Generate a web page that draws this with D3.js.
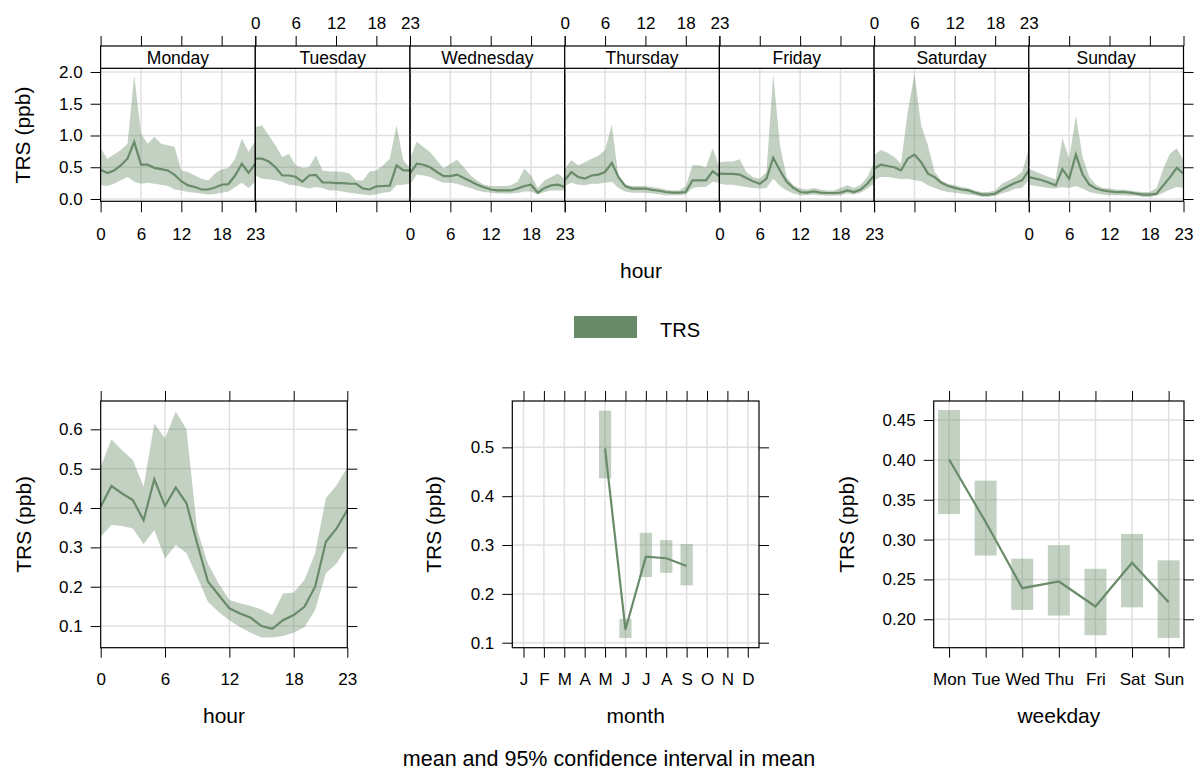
<!DOCTYPE html>
<html>
<head>
<meta charset="utf-8">
<script src="https://cdn.jsdelivr.net/npm/d3@7"></script>
<style>
  body { margin: 0; background: #fff; }
  text { font-family: "Liberation Sans", Arial, sans-serif; fill: #000; }
</style>
</head>
<body>
<script>
// ---- data ----
let days = ["Monday","Tuesday","Wednesday","Thursday","Friday","Saturday","Sunday"];
let hourTicks = [0,6,12,18,23];

// day x hour: mean, lower and upper 95% CI, one row per day
let dayHourMean = [
  [0.46,0.41,0.45,0.53,0.635,0.90,0.54,0.54,0.49,0.47,0.45,0.38,0.28,0.215,0.19,0.15,0.15,0.18,0.225,0.235,0.37,0.555,0.41,0.555],
  [0.635,0.635,0.59,0.50,0.37,0.37,0.35,0.27,0.37,0.38,0.26,0.26,0.25,0.25,0.24,0.24,0.165,0.15,0.20,0.205,0.21,0.53,0.45,0.45],
  [0.40,0.555,0.54,0.50,0.425,0.36,0.36,0.385,0.33,0.28,0.225,0.185,0.15,0.135,0.135,0.135,0.165,0.205,0.225,0.10,0.175,0.215,0.225,0.19],
  [0.295,0.425,0.345,0.32,0.37,0.385,0.425,0.57,0.345,0.205,0.165,0.165,0.165,0.145,0.13,0.11,0.10,0.10,0.11,0.295,0.295,0.295,0.435,0.36],
  [0.40,0.395,0.395,0.385,0.33,0.28,0.24,0.32,0.65,0.45,0.27,0.175,0.11,0.10,0.12,0.10,0.095,0.095,0.10,0.135,0.11,0.15,0.24,0.37],
  [0.48,0.54,0.52,0.50,0.45,0.635,0.70,0.58,0.40,0.345,0.255,0.205,0.175,0.15,0.135,0.10,0.07,0.07,0.085,0.15,0.205,0.255,0.295,0.45],
  [0.345,0.32,0.295,0.255,0.215,0.47,0.32,0.70,0.385,0.225,0.165,0.135,0.12,0.11,0.11,0.10,0.085,0.07,0.07,0.085,0.215,0.345,0.49,0.40]
];
let dayHourLow = [
  [0.215,0.205,0.24,0.295,0.345,0.27,0.24,0.255,0.24,0.225,0.205,0.15,0.135,0.11,0.10,0.085,0.07,0.08,0.10,0.12,0.19,0.255,0.175,0.27],
  [0.37,0.32,0.31,0.295,0.27,0.225,0.215,0.19,0.165,0.19,0.175,0.135,0.135,0.12,0.10,0.085,0.07,0.06,0.075,0.10,0.11,0.215,0.225,0.24],
  [0.215,0.385,0.37,0.345,0.295,0.255,0.255,0.24,0.205,0.175,0.135,0.11,0.10,0.085,0.085,0.085,0.095,0.12,0.12,0.07,0.11,0.135,0.135,0.135],
  [0.205,0.255,0.225,0.215,0.24,0.24,0.255,0.27,0.175,0.12,0.10,0.10,0.10,0.085,0.075,0.06,0.06,0.06,0.07,0.175,0.19,0.19,0.27,0.255],
  [0.24,0.225,0.225,0.205,0.19,0.175,0.165,0.175,0.32,0.205,0.135,0.085,0.06,0.06,0.07,0.06,0.05,0.05,0.06,0.085,0.07,0.10,0.165,0.24],
  [0.295,0.345,0.345,0.33,0.31,0.32,0.295,0.28,0.215,0.175,0.135,0.11,0.10,0.085,0.07,0.06,0.03,0.03,0.05,0.085,0.12,0.165,0.175,0.295],
  [0.225,0.205,0.19,0.175,0.165,0.19,0.175,0.205,0.165,0.11,0.085,0.07,0.06,0.06,0.06,0.05,0.05,0.03,0.03,0.05,0.10,0.15,0.19,0.175]
];
let dayHourHigh = [
  [0.80,0.635,0.70,0.77,0.87,1.95,1.03,0.87,0.98,0.87,0.845,0.82,0.45,0.425,0.37,0.32,0.29,0.40,0.47,0.49,0.635,0.95,0.74,0.92],
  [1.13,1.16,1.00,0.845,0.66,0.71,0.53,0.49,0.50,0.69,0.45,0.435,0.435,0.425,0.40,0.29,0.29,0.435,0.45,0.53,0.635,1.16,0.61,0.49],
  [0.635,0.90,0.82,0.74,0.61,0.48,0.555,0.62,0.50,0.37,0.29,0.225,0.205,0.205,0.205,0.215,0.27,0.48,0.37,0.175,0.29,0.345,0.40,0.31],
  [0.48,0.61,0.53,0.58,0.635,0.68,0.77,1.17,0.345,0.225,0.205,0.205,0.205,0.19,0.175,0.15,0.135,0.135,0.20,0.53,0.53,0.50,0.80,0.50],
  [0.58,0.59,0.59,0.625,0.425,0.345,0.32,0.425,1.97,0.845,0.345,0.215,0.165,0.15,0.175,0.15,0.135,0.135,0.175,0.215,0.175,0.225,0.345,0.58],
  [0.69,0.77,0.73,0.66,0.555,1.37,1.97,1.16,0.845,0.425,0.29,0.24,0.215,0.19,0.175,0.135,0.11,0.11,0.135,0.24,0.29,0.345,0.425,0.79],
  [0.47,0.435,0.385,0.345,0.31,0.96,0.635,1.31,0.66,0.345,0.225,0.175,0.165,0.15,0.15,0.135,0.12,0.11,0.11,0.175,0.48,0.715,0.80,0.61]
];

// hour of day
let hourMean = [0.403,0.456,0.437,0.42,0.369,0.473,0.405,0.452,0.412,0.31,0.213,0.179,0.145,0.132,0.121,0.10,0.093,0.115,0.128,0.149,0.20,0.314,0.348,0.395];
let hourLow  = [0.327,0.357,0.354,0.348,0.308,0.344,0.272,0.306,0.285,0.225,0.162,0.136,0.115,0.097,0.083,0.071,0.071,0.075,0.083,0.097,0.141,0.234,0.259,0.302];
let hourHigh = [0.505,0.575,0.547,0.522,0.454,0.615,0.577,0.645,0.60,0.344,0.259,0.208,0.166,0.158,0.151,0.142,0.128,0.183,0.185,0.217,0.285,0.425,0.458,0.503];

// month
let monthLabels = ["J","F","M","A","M","J","J","A","S","O","N","D"];
let monthNum  = [5,6,7,8,9];
let monthMean = [0.498,0.127,0.276,0.273,0.257];
let monthLow  = [0.4365,0.1095,0.2345,0.243,0.2174];
let monthHigh = [0.575,0.149,0.325,0.310,0.302];

// weekday
let wdLabels = ["Mon","Tue","Wed","Thu","Fri","Sat","Sun"];
let wdMean = [0.4005,0.322,0.239,0.2474,0.216,0.271,0.2214];
let wdLow  = [0.332,0.280,0.2117,0.2046,0.180,0.215,0.1765];
let wdHigh = [0.4626,0.374,0.276,0.293,0.2633,0.307,0.274];

// ---- drawing ----
let col = "#698b69";
let gridCol = "#e0e0e0";
let tickFont = 17;
let titleFont = 21;

let svg = d3.select("body").append("svg")
  .attr("width", 1194)
  .attr("height", 771);

function tidy(g) {
  g.select(".domain").remove();
  g.selectAll("line").attr("stroke", "#000");
  g.selectAll("text").attr("font-size", tickFont).attr("fill", "#000")
    .attr("font-family", "Liberation Sans, Arial, sans-serif");
  return g;
}

function grid(g, x, y, xs, ys) {
  g.selectAll(null).data(xs).enter().append("line")
    .attr("x1", d => x(d)).attr("x2", d => x(d))
    .attr("y1", y.range()[0]).attr("y2", y.range()[1])
    .attr("stroke", gridCol).attr("stroke-width", 1.5);
  g.selectAll(null).data(ys).enter().append("line")
    .attr("x1", x.range()[0]).attr("x2", x.range()[1])
    .attr("y1", d => y(d)).attr("y2", d => y(d))
    .attr("stroke", gridCol).attr("stroke-width", 1.5);
}

function frame(g, x, y) {
  g.append("rect")
    .attr("x", x.range()[0]).attr("y", y.range()[1])
    .attr("width", x.range()[1] - x.range()[0])
    .attr("height", y.range()[0] - y.range()[1])
    .attr("fill", "none").attr("stroke", "#000").attr("stroke-width", 1.2);
}

// top: day x hour panels
let topYTicks = [0, 0.5, 1, 1.5, 2];
let yTop = d3.scaleLinear().domain([-0.036, 2.058]).range([201.3, 68.3]);
let panelW = 154.7, left0 = 100.6, stripTop = 46;

days.forEach((day, i) => {
  let x0 = left0 + i * panelW;
  let x = d3.scaleLinear().domain([0, 23]).range([x0, x0 + panelW]);
  let g = svg.append("g");

  grid(g, x, yTop, [6, 12, 18], topYTicks);

  let band = d3.area()
    .x((d, h) => x(h))
    .y0((d, h) => yTop(dayHourLow[i][h]))
    .y1((d, h) => yTop(dayHourHigh[i][h]));
  g.append("path").datum(dayHourMean[i]).attr("d", band)
    .attr("fill", col).attr("fill-opacity", 0.4);
  g.append("path").datum(dayHourMean[i])
    .attr("d", d3.line().x((d, h) => x(h)).y(d => yTop(d)))
    .attr("fill", "none").attr("stroke", col).attr("stroke-width", 2.2);

  frame(g, x, yTop);

  // strip
  g.append("rect").attr("x", x0).attr("y", stripTop)
    .attr("width", panelW).attr("height", yTop.range()[1] - stripTop)
    .attr("fill", "#fff").attr("stroke", "#000").attr("stroke-width", 1.2);
  g.append("text").attr("x", x0 + panelW / 2).attr("y", 63.5)
    .attr("text-anchor", "middle").attr("font-size", 17.5).text(day);

  // bottom axis, labelled on alternate panels
  let bot = g.append("g").attr("transform", `translate(0,${yTop.range()[0]})`)
    .call(d3.axisBottom(x).tickValues(hourTicks).tickSize(11).tickPadding(15.5)
      .tickFormat(i % 2 === 0 ? d3.format("d") : () => ""));
  tidy(bot);
  let top = g.append("g").attr("transform", `translate(0,${stripTop})`)
    .call(d3.axisTop(x).tickValues(hourTicks).tickSize(10).tickPadding(7)
      .tickFormat(i % 2 === 1 ? d3.format("d") : () => ""));
  tidy(top);

  if (i === 0) {
    tidy(g.append("g").attr("transform", `translate(${x0},0)`)
      .call(d3.axisLeft(yTop).tickValues(topYTicks).tickSize(10).tickPadding(8).tickFormat(d3.format(".1f"))));
  }
  if (i === days.length - 1) {
    tidy(g.append("g").attr("transform", `translate(${x0 + panelW},0)`)
      .call(d3.axisRight(yTop).tickValues(topYTicks).tickSize(10).tickFormat(() => "")));
  }
});

svg.append("text").attr("transform", "translate(30,135) rotate(-90)")
  .attr("text-anchor", "middle").attr("font-size", titleFont).text("TRS (ppb)");
svg.append("text").attr("x", 641).attr("y", 278)
  .attr("text-anchor", "middle").attr("font-size", titleFont).text("hour");

// legend
svg.append("rect").attr("x", 574).attr("y", 316).attr("width", 63).attr("height", 22).attr("fill", col);
svg.append("text").attr("x", 660).attr("y", 337).attr("font-size", 20).text("TRS");

// bottom panels
let pTop = 401, pBot = 647.7;

function sidePanel(opt) {
  let g = svg.append("g");
  let x = d3.scaleLinear().domain(opt.xDomain).range([opt.x0, opt.x1]);
  let y = d3.scaleLinear().domain(opt.yDomain).range([pBot, pTop]);

  grid(g, x, y, opt.gridX, opt.yTicks);
  opt.draw(g, x, y);
  frame(g, x, y);

  tidy(g.append("g").attr("transform", `translate(0,${pBot})`)
    .call(d3.axisBottom(x).tickValues(opt.xTicks).tickSize(10).tickPadding(15)
      .tickFormat(opt.xFormat)));
  tidy(g.append("g").attr("transform", `translate(0,${pTop})`)
    .call(d3.axisTop(x).tickValues(opt.xTicks).tickSize(10).tickFormat(() => "")));
  tidy(g.append("g").attr("transform", `translate(${opt.x0},0)`)
    .call(d3.axisLeft(y).tickValues(opt.yTicks).tickSize(10).tickPadding(8)
      .tickFormat(d3.format(opt.yFormat))));
  tidy(g.append("g").attr("transform", `translate(${opt.x1},0)`)
    .call(d3.axisRight(y).tickValues(opt.yTicks).tickSize(10).tickFormat(() => "")));

  svg.append("text").attr("transform", `translate(${opt.titleX},${(pTop + pBot) / 2}) rotate(-90)`)
    .attr("text-anchor", "middle").attr("font-size", titleFont).text("TRS (ppb)");
  svg.append("text").attr("x", (opt.x0 + opt.x1) / 2).attr("y", 723)
    .attr("text-anchor", "middle").attr("font-size", titleFont).text(opt.xTitle);
}

// hour
sidePanel({
  x0: 100.7, x1: 347.3, xDomain: [0, 23], yDomain: [0.045, 0.672],
  xTicks: hourTicks, gridX: [6, 12, 18], xFormat: d3.format("d"),
  yTicks: [0.1, 0.2, 0.3, 0.4, 0.5, 0.6], yFormat: ".1f",
  titleX: 31, xTitle: "hour",
  draw: (g, x, y) => {
    g.append("path").datum(hourMean)
      .attr("d", d3.area().x((d, h) => x(h)).y0((d, h) => y(hourLow[h])).y1((d, h) => y(hourHigh[h])))
      .attr("fill", col).attr("fill-opacity", 0.4);
    g.append("path").datum(hourMean)
      .attr("d", d3.line().x((d, h) => x(h)).y(d => y(d)))
      .attr("fill", "none").attr("stroke", col).attr("stroke-width", 2.2);
  }
});

// month
sidePanel({
  x0: 512.3, x1: 759, xDomain: [0.45, 12.55], yDomain: [0.0898, 0.5949],
  xTicks: d3.range(1, 13), gridX: d3.range(1, 13), xFormat: d => monthLabels[d - 1],
  yTicks: [0.1, 0.2, 0.3, 0.4, 0.5], yFormat: ".1f",
  titleX: 441, xTitle: "month",
  draw: (g, x, y) => {
    g.selectAll(null).data(monthNum).enter().append("rect")
      .attr("x", d => x(d - 0.3)).attr("width", d => x(d + 0.3) - x(d - 0.3))
      .attr("y", (d, i) => y(monthHigh[i])).attr("height", (d, i) => y(monthLow[i]) - y(monthHigh[i]))
      .attr("fill", col).attr("fill-opacity", 0.4);
    g.append("path").datum(monthNum)
      .attr("d", d3.line().x(d => x(d)).y((d, i) => y(monthMean[i])))
      .attr("fill", "none").attr("stroke", col).attr("stroke-width", 2.2);
  }
});

// weekday
sidePanel({
  x0: 933.7, x1: 1184, xDomain: [0.58, 7.42], yDomain: [0.1643, 0.4739],
  xTicks: d3.range(1, 8), gridX: d3.range(1, 8), xFormat: d => wdLabels[d - 1],
  yTicks: [0.2, 0.25, 0.3, 0.35, 0.4, 0.45], yFormat: ".2f",
  titleX: 854, xTitle: "weekday",
  draw: (g, x, y) => {
    g.selectAll(null).data(wdLabels).enter().append("rect")
      .attr("x", (d, i) => x(i + 1 - 0.3)).attr("width", (d, i) => x(i + 1.3) - x(i + 0.7))
      .attr("y", (d, i) => y(wdHigh[i])).attr("height", (d, i) => y(wdLow[i]) - y(wdHigh[i]))
      .attr("fill", col).attr("fill-opacity", 0.4);
    g.append("path").datum(wdMean)
      .attr("d", d3.line().x((d, i) => x(i + 1)).y(d => y(d)))
      .attr("fill", "none").attr("stroke", col).attr("stroke-width", 2.2);
  }
});

svg.append("text").attr("x", 609).attr("y", 766)
  .attr("text-anchor", "middle").attr("font-size", 21.5)
  .text("mean and 95% confidence interval in mean");
</script>
</body>
</html>
